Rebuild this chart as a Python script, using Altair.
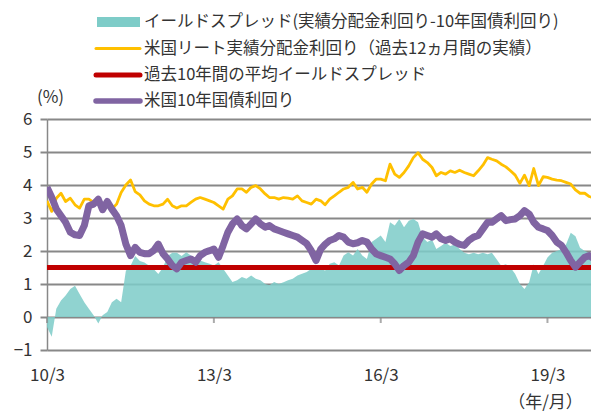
import altair as alt
import pandas as pd

# ---------------- data ----------------
MONTHS = pd.date_range("2010-03-01", periods=119, freq="MS").strftime("%Y-%m-%d").tolist()
DATES = MONTHS + ["2020-01-27", "2020-02-03"]

# イールドスプレッド (teal area)
SPREAD = [
    -0.3, -0.6, 0.25, 0.5, 0.65, 0.85, 0.95, 0.7, 0.45, 0.25,
    0.05, -0.2, 0.05, 0.15, 0.45, 0.55, 0.45, 1.4, 1.55, 1.85,
    1.7, 1.65, 1.55, 1.45, 1.3, 1.5, 1.85, 1.95, 1.95, 1.85,
    1.96, 1.86, 1.76, 1.71, 1.66, 1.61, 1.56, 1.66, 1.46, 1.26,
    1.06, 1.11, 1.21, 1.16, 1.26, 1.16, 1.11, 1.0, 0.96, 1.06,
    1.0, 1.05, 1.11, 1.16, 1.26, 1.31, 1.36, 1.46, 1.56, 1.51,
    1.4, 1.61, 1.66, 1.56, 1.86, 1.96, 1.86, 2.06, 1.86, 1.76,
    2.27, 2.37, 2.47, 2.27, 2.87, 2.77, 2.97, 2.72, 2.92, 2.97,
    2.87, 2.42, 2.27, 2.35, 2.06, 2.15, 2.25, 2.15, 2.2, 2.06,
    1.95, 1.9, 1.95, 1.9, 1.95, 1.9, 1.95, 1.75, 1.55, 1.6,
    1.5, 1.3, 1.0, 0.85, 1.05, 1.6, 1.3, 1.55, 1.8, 1.95,
    2.0, 2.05, 2.2, 2.55, 2.45, 2.1, 2.0, 1.95, 1.9,
    1.95, 1.9,
]

# 米国リート実績分配金利回り (orange line)
REIT_YIELD = [
    3.52, 3.2, 3.6, 3.75, 3.5, 3.6, 3.4, 3.3, 3.57, 3.57,
    3.47, 3.42, 3.37, 3.47, 3.27, 3.42, 3.77, 4.0, 4.15, 3.8,
    3.7, 3.52, 3.42, 3.37, 3.37, 3.42, 3.57, 3.37, 3.3, 3.37,
    3.37, 3.47, 3.57, 3.62, 3.57, 3.52, 3.47, 3.37, 3.27, 3.57,
    3.67, 3.88, 3.88, 3.78, 3.93, 3.98, 3.88, 3.73, 3.62, 3.62,
    3.57, 3.62, 3.6, 3.57, 3.67, 3.52, 3.47, 3.42, 3.57, 3.52,
    3.4, 3.57, 3.67, 3.78, 3.88, 3.93, 4.08, 3.88, 3.93, 3.78,
    4.03, 4.18, 4.18, 4.13, 4.63, 4.33, 4.23, 4.38, 4.58, 4.83,
    4.98, 4.78, 4.68, 4.53, 4.28, 4.38, 4.33, 4.43, 4.38, 4.45,
    4.38, 4.33, 4.28, 4.43, 4.6, 4.83, 4.78, 4.73, 4.63, 4.55,
    4.43, 4.3, 4.05, 4.3, 3.98, 4.5, 3.98, 4.25, 4.23, 4.18,
    4.15, 4.13, 4.08, 4.03, 3.85, 3.75, 3.75, 3.65, 3.6,
    3.55, 3.55,
]

# 米国10年国債利回り (purple line)
UST10 = [
    3.93, 3.63, 3.27, 3.07, 2.87, 2.57, 2.49, 2.47, 2.77, 3.37,
    3.42, 3.57, 3.25, 3.5, 3.27, 3.07, 2.77, 2.21, 1.86, 2.11,
    1.96, 1.92, 1.92, 2.02, 2.21, 1.92, 1.76, 1.56, 1.46, 1.66,
    1.71, 1.76, 1.66, 1.86, 1.96, 2.01, 2.06, 1.81, 2.17, 2.57,
    2.82, 2.97, 2.77, 2.67, 2.82, 2.97, 2.82, 2.72, 2.77, 2.67,
    2.62, 2.57, 2.52, 2.47, 2.42, 2.32, 2.22, 2.01, 1.71, 2.06,
    2.2, 2.32, 2.37, 2.47, 2.42, 2.27, 2.22, 2.25, 2.32, 2.27,
    2.06, 1.91, 1.86, 1.81, 1.76, 1.61, 1.41, 1.56, 1.66, 1.86,
    2.27, 2.52, 2.47, 2.42, 2.52, 2.37, 2.32, 2.37, 2.27, 2.2,
    2.17, 2.32, 2.42, 2.47, 2.67, 2.87, 2.87, 2.97, 3.07, 2.92,
    2.95, 2.97, 3.07, 3.22, 3.12, 2.87, 2.72, 2.67, 2.62, 2.47,
    2.27, 2.17, 1.96, 1.71, 1.51, 1.66, 1.81, 1.86, 1.76,
    1.6, 0.55,
]

AVG_SPREAD = [1.5]  # 過去10年間の平均イールドスプレッド

Y_TICKS = [-1, 0, 1, 2, 3, 4, 5, 6]
TICK_DATES = ["2010-03-01", "2013-03-01", "2016-03-01", "2019-03-01"]

LABEL_SPREAD = "イールドスプレッド(実績分配金利回り-10年国債利回り)"
LABEL_REIT = "米国リート実績分配金利回り（過去12ヵ月間の実績）"
LABEL_AVG = "過去10年間の平均イールドスプレッド"
LABEL_UST = "米国10年国債利回り"
Y_TITLE = "(%)"
X_TITLE = "（年/月）"

# ---------------- styles ----------------
FONT = "Noto Sans CJK JP"
TEAL = "#7ECCC8"
ORANGE = "#FFC000"
RED = "#C00000"
PURPLE = "#8064A2"
GRID = "#888888"
TEXT = "#333333"

df = pd.DataFrame({"date": DATES, "spread": SPREAD, "reit": REIT_YIELD, "ust": UST10})

xscale = alt.Scale(
    type="utc", nice=False,
    domain=[alt.DateTime(year=2010, month=3, date=1, utc=True),
            alt.DateTime(year=2019, month=12, date=12, utc=True)],
)
tick_vals = [alt.DateTime(year=int(d[:4]), month=3, date=1, utc=True) for d in TICK_DATES]
yscale = alt.Scale(domain=[-1, 6], nice=False, zero=False)

X_AXIS = alt.Axis(
    values=tick_vals, tickCount=len(TICK_DATES), format="%y/%-m", labelFontSize=17,
    labelPadding=17, labelColor=TEXT, labelFlush=False, labelOverlap=False, ticks=False,
    domain=False, grid=False,
    title=X_TITLE, titleX=498, titleY=52, titleAlign="center",
    titleBaseline="middle", titleFontSize=17, titleFontWeight="normal",
    titleColor=TEXT,
)
Y_AXIS = alt.Axis(
    values=Y_TICKS, tickCount=len(Y_TICKS), grid=True, gridColor=GRID, gridWidth=2,
    labelOverlap=False,
    domain=True, domainColor=GRID, domainWidth=1.5,
    ticks=True, tickColor=GRID, tickSize=7, tickWidth=2,
    labelFontSize=17, labelPadding=8, labelColor=TEXT,
    title=Y_TITLE, titleAngle=0, titleX=3, titleY=-22, titleAlign="center",
    titleBaseline="middle", titleFontSize=17, titleFontWeight="normal",
    titleColor=TEXT,
)

# teal spread area (carries both axes)
area = alt.Chart(df).mark_area(color=TEAL, opacity=0.86, clip=True).encode(
    x=alt.X("date:T", scale=xscale, axis=X_AXIS),
    y=alt.Y("spread:Q", scale=yscale, axis=Y_AXIS),
    y2=alt.datum(0),
)
# short tick marks on the zero line at the labelled dates
xticks = alt.Chart(pd.DataFrame({"d": TICK_DATES})).mark_tick(
    color=GRID, orient="vertical", size=6, thickness=2, yOffset=3
).encode(x=alt.X("d:T", scale=xscale), y=alt.datum(0))
orange = alt.Chart(df).mark_line(color=ORANGE, strokeWidth=2.8, strokeJoin="round", clip=True).encode(
    x=alt.X("date:T", scale=xscale), y=alt.Y("reit:Q", scale=yscale)
)
avg = alt.Chart(pd.DataFrame({"v": AVG_SPREAD})).mark_rule(color=RED, strokeWidth=5).encode(
    y=alt.Y("v:Q", scale=yscale)
)
purple = alt.Chart(df).mark_line(color=PURPLE, strokeWidth=7, strokeJoin="round", clip=True).encode(
    x=alt.X("date:T", scale=xscale), y=alt.Y("ust:Q", scale=yscale)
)

one = pd.DataFrame({"k": [0]})
leg_rect = alt.Chart(one).mark_rect(color=TEAL).encode(
    x=alt.value(50), x2=alt.value(93), y=alt.value(-102), y2=alt.value(-92)
)
leg_orange = alt.Chart(one).mark_rule(color=ORANGE, strokeWidth=3, strokeCap="round").encode(
    x=alt.value(49), x2=alt.value(93), y=alt.value(-70.5)
)
leg_red = alt.Chart(one).mark_rule(color=RED, strokeWidth=5, strokeCap="round").encode(
    x=alt.value(49), x2=alt.value(93), y=alt.value(-44)
)
leg_purple = alt.Chart(one).mark_rule(color=PURPLE, strokeWidth=5.5, strokeCap="round").encode(
    x=alt.value(49), x2=alt.value(93), y=alt.value(-18)
)


def leg_text(label, ypix):
    return alt.Chart(one).mark_text(
        text=label, align="left", baseline="middle", fontSize=16.5, color=TEXT, font=FONT
    ).encode(x=alt.value(97), y=alt.value(ypix))


chart = alt.layer(
    area, xticks, orange, avg, purple,
    leg_rect, leg_orange, leg_red, leg_purple,
    leg_text(LABEL_SPREAD, -97), leg_text(LABEL_REIT, -70.5),
    leg_text(LABEL_AVG, -44), leg_text(LABEL_UST, -18),
).properties(
    width=544, height=231,
    autosize=alt.AutoSizeParams(type="none"),
    padding={"left": 39, "top": 111, "right": 0, "bottom": 62},
).configure(font=FONT).configure_view(stroke=None)

chart.save("out.html", embed_options={"renderer": "svg", "actions": False})
